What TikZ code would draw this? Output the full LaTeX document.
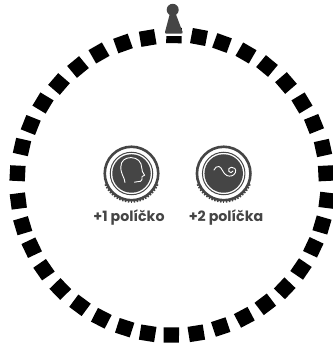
\documentclass[tikz,border=0pt]{standalone}
\usepackage{fontspec}
\setmainfont{Poppins}
\definecolor{ink}{HTML}{454545}
\tikzset{
  tile/.style={rectangle,fill=black,minimum size=15.4pt,inner sep=0pt,outer sep=0pt},
  ringout/.style={circle,draw=ink,line width=2.6pt,minimum size=53.5pt,inner sep=0pt},
  ringin/.style={circle,draw=ink,line width=1pt,minimum size=42.5pt,inner sep=0pt},
  disc/.style={circle,fill=ink,minimum size=38.5pt,inner sep=0pt},
  tooth/.style={draw=ink,line width=1.5pt},
  icon/.style={draw=white,line width=.9pt,line cap=round,line join=round},
  caption/.style={text=ink,font=\fontsize{14.2}{16}\selectfont\bfseries,inner sep=0pt},
}
\begin{document}
\begin{tikzpicture}[x=1pt,y=-1pt,shift={(0pt,345pt)}]
\useasboundingbox (0,0) rectangle (332,345);
% track tiles
\foreach \n/\px/\py in {
 1/17.5/173.3, 2/22/147, 3/30.7/125, 4/43/103, 5/59/84, 6/78/67, 7/99/53, 8/123/43.5, 9/147.7/38,
 10/174/35.5, 11/199/37, 12/222/43, 13/246/53, 14/267/66, 15/286/83, 16/302/103, 17/314/124, 18/323/148, 19/326/173.3,
 20/327/200.3, 21/322/225, 22/313.3/247.3, 23/301/269, 24/284.7/288.3, 25/265.3/304.3, 26/244.3/317.3,
 27/220.7/327, 28/196.3/333.3, 29/171.3/335, 30/147.7/333.3, 31/124.7/327.7,
 32/101.3/318.3, 33/80/305.3, 34/60.3/289, 35/44/269.7, 36/31.7/247.7, 37/22.7/225.7, 38/18.3/201}{
  \pgfmathsetmacro{\ang}{atan2(181-\py,\px-172)}
  \node[tile,rotate=\ang] (t\n) at (\px,\py) {};
}
% pawn
\fill[white] (162,33.4) rectangle (186,36.2);
\fill[ink] (172.7,9.8) circle[radius=6pt];
\fill[ink] (169.8,14) -- (175.8,14) -- (182.6,32)
  .. controls (183,33.2) and (182,33.6) .. (181,33.6) -- (166.5,33.6)
  .. controls (165,33.6) and (164.6,33) .. (165,32) -- cycle;
% left coin
\node[ringout] (coinA) at (131.5,173.5) {};
\node[ringin] (ringA) at (coinA) {};
\node[disc] (discA) at (coinA) {};
\foreach \a in {24,30,...,156}{\draw[tooth] (131.5,173.5) ++(\a:26.5) -- ++(\a:2.7);}
\draw[icon] (125,182.5) .. controls (124.5,177) and (120.8,174.5) .. (120.8,167)
  .. controls (120.8,160.5) and (125.5,157.6) .. (131,157.6)
  .. controls (137.5,157.6) and (141.5,162) .. (141.7,167.5)
  .. controls (141.8,170.5) and (142.5,172.5) .. (144.6,175.3)
  -- (142,176.6) .. controls (142.3,178.5) and (142.2,181) .. (140.5,181.3)
  .. controls (138.5,181.8) and (136.5,181.6) .. (134.5,182.2);
\node[caption,anchor=base] (capA) at (129,221.2) {+1 políčko};
% right coin
\node[ringout] (coinB) at (223.7,173.5) {};
\node[ringin] (ringB) at (coinB) {};
\node[disc] (discB) at (coinB) {};
\foreach \a in {24,30,...,156}{\draw[tooth] (223.7,173.5) ++(\a:26.5) -- ++(\a:2.7);}
\draw[icon] (214,170) .. controls (215,167.5) and (217,166) .. (219,166.5)
  .. controls (222,167.3) and (223,174) .. (227,175.6)
  .. controls (230,176.8) and (234,176) .. (235.4,172.5)
  .. controls (236.6,169) and (234,167) .. (231.3,167.2)
  .. controls (229,167.4) and (228,169.5) .. (228.8,171.3)
  .. controls (229.6,173.2) and (232.5,173.2) .. (233,171);
\node[caption,anchor=base] (capB) at (226,221.2) {+2 políčka};
\end{tikzpicture}
\end{document}
